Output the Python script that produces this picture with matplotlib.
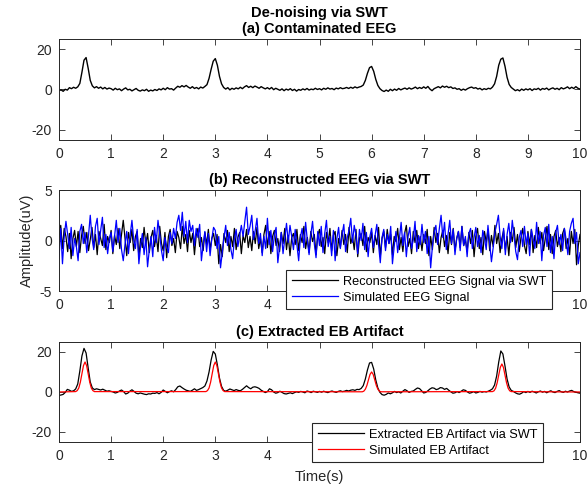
import numpy as np
import matplotlib.pyplot as plt

plt.rcParams['font.family'] = ['Liberation Sans', 'DejaVu Sans']
plt.rcParams['axes.unicode_minus'] = False

# contaminated EEG, one value every 0.04 s from 0 to 10 s
contaminated = [
    -0.6, -0.2, -0.9, 0.1, -0.3, 0.9, 0.4, 1.1, 0.6, 1.3, 3.0, 8.5, 14.5, 15.8, 10.5, 4.5, 1.8, 0.8, 1.4, 0.6, 1.2, 0.3, 1.0, 0.2, 0.7,
    0.4, -0.3, 0.6, -0.1, 0.3, -0.6, 0.2, 0.8, -0.2, 0.1, -0.7, -0.1, 0.5, -0.4, -0.8, -0.2, -0.6, 0.1, -0.9, -0.3, -0.7, 0.0, -0.5, 0.3, -0.2,
    0.6, -0.1, 0.9, 0.2, 0.4, -0.3, 0.7, 1.6, 1.1, 1.9, 1.3, 2.0, 1.2, 0.6, 1.4, 0.5, 1.0, 0.3, 1.2, 0.7, 1.5, 2.4, 5.5, 10.0, 14.0,
    15.3, 12.0, 6.5, 2.8, 1.0, 0.2, 0.9, -0.2, 0.6, 0.1, 0.8, 0.3, 1.1, 0.4, 1.3, 1.9, 1.0, 1.6, 0.9, 1.7, 1.2, 0.6, 1.4, 0.8, 0.3,
    0.9, 0.2, 1.0, -0.1, 0.6, 0.1, -0.4, 0.3, -0.6, 0.2, -0.3, 0.4, -0.5, 0.1, -0.8, 0.0, -0.4, 0.3, -0.2, 0.5, -0.3, 0.2, -0.1, 0.6, 0.0,
    0.4, -0.2, 0.6, 0.1, 0.8, 0.2, 0.5, -0.1, 0.7, 0.3, 0.9, 0.4, 0.6, 1.0, 0.5, 1.1, 0.6, 1.3, 0.8, 1.2, 1.5, 2.2, 4.5, 8.0, 10.8,
    11.4, 9.0, 5.0, 2.0, 0.4, -0.5, -1.0, -0.3, -0.9, 0.1, -0.6, 0.2, -0.4, 0.5, -0.2, 0.3, 0.7, 0.1, 0.8, 0.2, 0.6, 1.2, 0.4, 1.0, 0.5,
    1.3, 0.6, 1.5, 0.2, -0.6, 0.4, 0.9, 1.4, 0.8, 1.7, 1.1, 1.6, 0.9, 1.3, 0.5, 0.8, 0.1, 0.4, -0.4, 0.2, -0.3, 0.4, 0.9, 1.2, 0.6,
    0.9, 0.2, 0.6, -0.2, 0.4, 0.0, 0.6, 0.3, 1.2, 2.8, 6.5, 12.0, 15.0, 15.6, 11.5, 6.0, 2.5, 1.0, 0.2, -0.6, -0.1, -0.7, 0.2, -0.4, 0.3,
    -0.2, 0.4, -0.5, 0.3, 0.0, 0.6, -0.3, 0.5, 0.1, 0.7, -0.2, 0.4, 0.8, 0.1, 0.6, -0.1, 0.9, 0.3, 0.7, 1.3, 0.4, 1.1, 0.5, 1.4, 0.6, 0.2,
]

# simulated EEG and reconstructed EEG, one value every 1/30 s
simulated_eeg = [
    -1.8, 1.2, -2.3, 0.4, 1.9, 0.6, -0.8, 1.3, -1.5, 0.2, -0.6, -2.0, 0.9, 1.6, -0.3, 0.8, -1.2, 0.5, 2.5, 0.3, -0.9, 1.4, 2.2, -0.4, 1.0, 2.3, -0.7, 0.6, -1.3, 0.2,
    0.8, -1.1, 0.5, 2.0, -0.2, 1.2, -0.9, -2.0, -0.4, 0.9, -1.3, 0.6, 2.0, 0.1, -0.8, 1.1, -2.3, -0.5, 0.7, -1.4, 0.3, -2.6, -0.9, 0.4, -1.6, 1.3, -0.2, 2.0, 0.6, -1.0,
    -2.0, 0.3, -0.6, -1.2, 0.8, -0.3, 1.2, 0.2, 1.8, 2.5, 1.0, 2.8, 0.4, 1.9, -0.2, 2.0, 0.9, 1.5, -0.5, 1.2, 0.3, 1.6, -2.0, -0.4, 0.9, -1.1, 0.7, -1.5, 0.2, 1.3,
    1.0, -0.8, 0.4, -2.7, -1.2, 0.3, 1.5, -0.5, 0.8, -0.9, -1.8, 0.2, 1.1, -0.6, 0.5, 1.5, 0.4, 1.9, 3.3, 0.6, 1.4, 2.5, 0.1, 1.0, 2.2, -0.3, 0.7, -1.5, 0.4, -0.8,
    2.2, -0.4, 1.0, -1.1, 0.5, 1.3, -2.2, -0.6, 0.8, -1.3, 0.2, 1.7, -0.2, 1.5, 0.4, -0.9, 1.1, -0.5, -2.0, 0.3, 1.2, -0.7, 1.8, 0.0, -1.4, 0.6, 1.9, -0.3, -1.7, 0.9,
    -0.5, 1.4, -1.2, 0.7, 2.0, -0.6, 0.4, -1.5, 1.0, -2.0, 0.2, 1.3, -0.8, 0.6, 1.6, -1.1, 0.3, 1.0, 2.2, -0.2, 1.5, 0.5, -1.3, 1.1, 0.0, 1.7, -0.9, 0.8, -1.6, 0.4,
    1.2, -0.7, 0.5, 1.6, -0.4, -2.2, 0.3, 1.1, -1.0, 0.6, -0.3, 1.4, -2.3, -0.6, 0.9, -1.2, 0.2, 1.8, -0.5, 0.8, -1.6, 0.4, 1.3, -0.8, 0.1, 1.9, -1.1, 0.5, -0.4, 1.6,
    -0.2, 0.9, -1.3, 0.4, -2.7, -0.6, 0.8, 1.5, -0.4, 1.2, 2.5, 0.3, 1.8, -0.9, 0.6, 2.0, -0.3, 1.1, -1.4, 0.2, 0.9, -1.0, 1.4, -0.5, 0.4, -1.6, 0.7, 1.2, -0.8, 0.3,
    1.3, -0.6, 0.5, -1.2, 1.0, 0.2, -0.9, 1.5, -0.3, -2.1, -0.7, 0.8, 1.6, 2.5, 0.4, -0.8, 1.2, -1.4, 0.6, 1.7, -0.2, 2.0, 0.5, -1.1, -1.9, 0.3, 1.0, -0.6, 1.4, -0.4,
    0.7, -1.5, 1.1, 0.2, -0.8, 1.8, -0.3, 0.9, -2.0, 0.5, 1.3, -0.6, 1.6, -1.2, 0.4, -1.8, 0.8, 1.5, -0.4, 0.6, -1.0, 1.2, 0.1, -1.4, 0.9, 1.7, 2.2, -0.3, 0.8, -2.3, -1.2,
]
reconstructed_eeg = [
    0.3, 1.5, -0.8, 1.2, 0.4, -1.1, 0.7, -1.8, 0.2, 1.0, -0.6, 0.9, -1.2, 0.5, 1.4, -0.3, 0.8, -1.0, 0.1, 1.3, -0.7, 0.6, -1.4, 0.9, 0.2, -0.5, 1.6, -0.9, 0.4, -0.2,
    1.0, -1.3, 0.5, -0.4, 1.2, -0.8, 0.6, 2.0, 0.3, -1.5, 0.8, -0.2, 1.1, -1.0, 0.4, 0.9, -1.6, 0.2, -0.7, 1.3, -0.4, 0.7, -1.2, 0.3, 1.0, -0.6, 0.5, -1.1, 1.4, -0.3,
    -1.0, 0.8, -1.7, 0.4, 1.1, -0.5, 0.2, -1.2, 0.9, 0.3, -0.8, 1.4, -0.3, 0.6, -1.1, 1.0, -0.2, 0.7, -1.4, 0.5, 1.2, -0.6, 0.3, -1.0, 0.8, -0.4, 1.1, -0.9, 0.2, 0.7,
    -0.5, 0.6, -2.3, -0.4, -1.6, 0.7, -0.2, 1.0, -1.1, 0.4, -0.6, 1.2, -0.9, 0.3, 0.8, -1.3, 0.5, -0.2, 1.1, -0.7, 0.4, -1.0, 0.9, -0.3, 1.3, -0.8, 0.2, -1.2, 0.6, 1.5,
    -0.7, 0.9, -1.3, 0.4, 1.0, -0.5, 0.2, -1.1, 0.8, -0.3, 1.2, -0.9, 0.5, -1.5, 0.3, 0.7, -0.4, 1.1, -1.0, 0.6, -0.2, 1.4, -0.8, 0.3, -1.2, 0.9, -0.1, 0.6, -1.4, 0.5,
    1.1, -0.6, 0.3, -1.3, 0.8, -0.2, 1.2, -1.0, 0.5, 0.9, -1.5, 0.2, -0.7, 1.0, -0.4, 0.6, -1.2, 1.3, -0.3, 0.4, -0.9, 1.1, -1.6, 0.2, 0.7, -0.5, 1.4, -1.1, 0.3, -0.2,
    0.8, -1.2, 0.5, -0.4, 1.3, -1.6, 0.2, 0.9, -0.7, 1.1, -0.3, 0.6, -1.4, 0.4, -0.1, 1.2, -0.9, 0.3, -1.1, 0.7, 1.5, -0.6, 0.2, -1.3, 0.9, -0.2, 1.0, -0.8, 0.4, -1.0,
    0.6, -0.3, 1.1, -1.5, 0.4, -0.9, 1.3, -0.2, 0.7, -1.2, 0.3, 1.0, -0.6, 0.5, -1.3, 0.8, -0.4, 1.2, -1.0, 0.2, 0.9, -0.7, 1.4, -0.5, 0.1, -1.1, 0.8, -0.3, 1.0, -1.6,
    0.4, 1.2, -0.8, 0.3, -1.4, 0.9, -0.2, 1.1, -1.0, 0.5, -0.6, 1.5, -0.3, 0.7, -1.2, 0.2, 1.0, -0.9, 0.4, -1.5, 0.8, -0.1, 1.3, -0.7, 0.6, -1.1, 0.3, 1.2, -0.5, -1.3,
    0.9, -0.4, 1.1, -1.2, 0.5, -0.7, 1.3, -0.3, 0.8, -1.0, 0.2, 1.4, -0.9, 0.6, -1.3, 0.4, 1.0, -0.6, 0.3, -1.1, 0.7, 1.2, -0.8, 0.2, -1.4, 0.9, -0.3, 1.1, -2.4, -0.5, 0.6,
]

# extracted EB artifact, one value every 0.04 s
extracted_eb = [
    -1.7, -1.5, -1.2, -0.2, 1.3, 0.9, 0.3, 0.6, 1.5, 4.0, 10.5, 18.0, 21.8, 19.5, 12.0, 5.0, 2.0, 1.2, 1.6, 1.3, 1.0, 1.4, 0.9, 0.4, 0.6,
    0.3, 0.0, -0.5, -0.2, 0.5, 1.0, 0.2, -1.0, -0.6, 0.4, 1.1, 0.3, -0.6, -0.9, -0.5, -0.8, -1.1, -1.3, -0.9, -1.0, -0.6, -0.7, -0.3, -0.9, -0.2,
    1.0, 0.3, -0.4, 0.2, 0.6, 0.1, 1.2, 2.6, 3.0, 2.2, 1.5, 0.9, 0.6, 0.3, 0.9, 1.6, 0.8, 1.2, 1.7, 2.2, 3.0, 5.5, 10.0, 16.0, 20.3,
    19.0, 13.5, 7.0, 2.8, 0.8, 0.4, 0.9, 1.5, 1.1, 0.7, 1.2, 0.8, 0.6, 1.3, 2.2, 3.1, 2.2, 1.6, 2.4, 2.6, 2.3, 1.8, 0.9, 0.3, -0.3,
    0.2, 1.6, 1.1, 0.0, -0.6, -0.3, 0.4, -0.2, -0.8, -1.0, -0.7, -0.4, -0.8, -0.3, 0.1, -0.2, 0.3, 0.0, -0.4, 0.5, 0.2, -0.3, 0.4, 0.1, -0.2,
    0.3, -0.1, 0.4, 0.0, -0.3, 0.2, 0.5, 0.1, -0.2, 0.3, 0.6, 0.2, 0.4, 0.8, 0.5, 0.9, 1.1, 0.8, 1.3, 1.2, 1.8, 3.2, 6.5, 11.0, 14.5,
    14.8, 11.5, 6.0, 2.0, -0.2, -1.3, -1.6, -1.2, -0.5, -0.9, -0.4, 0.3, -0.3, 0.1, -0.5, 0.4, 1.2, 0.6, -0.2, 0.3, 0.5, 1.3, 2.0, 1.7, 0.6,
    -0.5, -0.2, 0.6, 1.5, 2.1, 1.9, 1.2, 1.5, 2.2, 2.0, 1.3, 1.8, 0.9, 0.1, -0.6, -0.4, 0.2, -0.3, 0.4, 1.1, 0.8, 0.0, -0.6, -0.3, 0.2,
    -0.5, -0.2, 0.3, -0.1, 0.2, 0.0, 0.4, 0.9, 1.6, 3.5, 8.0, 15.0, 20.5, 19.0, 13.0, 6.5, 2.5, 0.8, 0.3, -0.4, -0.9, -1.1, -0.6, 0.2, -0.3,
    0.3, -0.2, 0.4, 0.0, -0.5, 0.1, 0.5, -0.1, 0.3, -0.4, 0.2, 0.6, 0.0, -0.3, 0.3, 0.7, 0.1, -0.2, 0.4, 0.0, 0.5, 0.8, 0.2, -0.1, -0.4, -0.6,
]

# simulated EB artifact (time, amplitude)
simulated_eb_t = [0.0,
                  0.32, 0.35, 0.38, 0.41, 0.44, 0.47, 0.50, 0.53, 0.56, 0.59, 0.62, 0.65, 0.68,
                  2.82, 2.85, 2.88, 2.91, 2.94, 2.97, 3.00, 3.03, 3.06, 3.09, 3.12, 3.15, 3.18,
                  5.82, 5.85, 5.88, 5.91, 5.94, 5.97, 6.00, 6.03, 6.06, 6.09, 6.12, 6.15, 6.18,
                  8.32, 8.35, 8.38, 8.41, 8.44, 8.47, 8.50, 8.53, 8.56, 8.59, 8.62, 8.65, 8.68,
                  10.0]
simulated_eb = [0.0,
                0.2, 0.7, 2.0, 4.9, 9.1, 13.2, 15.0, 13.2, 9.1, 4.9, 2.0, 0.7, 0.2,
                0.2, 0.7, 2.0, 4.9, 9.1, 13.2, 15.0, 13.2, 9.1, 4.9, 2.0, 0.7, 0.2,
                0.1, 0.4, 1.4, 3.3, 6.1, 8.8, 10.0, 8.8, 6.1, 3.3, 1.4, 0.4, 0.1,
                0.2, 0.6, 1.9, 4.6, 8.5, 12.3, 14.0, 12.3, 8.5, 4.6, 1.9, 0.6, 0.2,
                0.0]

t_a = np.linspace(0, 10, len(contaminated))
t_b = np.linspace(0, 10, len(simulated_eeg))
t_c = np.linspace(0, 10, len(extracted_eb))

fig = plt.figure(figsize=(5.87, 4.91), dpi=100)
ax1 = fig.add_axes([0.1005, 0.7149, 0.8876, 0.2057])
ax2 = fig.add_axes([0.1005, 0.4073, 0.8876, 0.2057])
ax3 = fig.add_axes([0.1005, 0.0998, 0.8876, 0.2037])

dark = '#262626'
leg_kw = dict(loc='upper left', fontsize=9.2, fancybox=False, framealpha=1,
              edgecolor=dark, handlelength=3.6, borderpad=0.45, labelspacing=0.3,
              handletextpad=0.4, borderaxespad=0)

ax1.plot(t_a, contaminated, color='k', lw=1.0)
ax1.set_ylim(-25, 25)
ax1.set_yticks([-20, 0, 20])
ax1.set_title('De-noising via SWT\n(a) Contaminated EEG', fontsize=10.5, fontweight='bold',
              pad=4, linespacing=1.25)

ax2.plot(t_b, reconstructed_eeg, color='k', lw=0.9, label='Reconstructed EEG Signal via SWT')
ax2.plot(t_b, simulated_eeg, color='b', lw=0.9, label='Simulated EEG Signal')
ax2.set_ylim(-5, 5)
ax2.set_yticks([-5, 0, 5])
ax2.set_title('(b) Reconstructed EEG via SWT', fontsize=10.5, fontweight='bold', pad=4)
ax2.set_ylabel('Amplitude(uV)', fontsize=10.5, color=dark)
leg2 = ax2.legend(bbox_to_anchor=(0.436, 0.208), **leg_kw)
leg2.get_frame().set_linewidth(0.8)

ax3.plot(t_c, extracted_eb, color='k', lw=0.9, label='Extracted EB Artifact via SWT')
ax3.plot(simulated_eb_t, simulated_eb, color='r', lw=0.9, label='Simulated EB Artifact')
ax3.set_ylim(-25, 25)
ax3.set_yticks([-20, 0, 20])
ax3.set_title('(c) Extracted EB Artifact', fontsize=10.5, fontweight='bold', pad=4)
ax3.set_xlabel('Time(s)', fontsize=10.5, color=dark, labelpad=5)
leg3 = ax3.legend(bbox_to_anchor=(0.486, 0.19), **leg_kw)
leg3.get_frame().set_linewidth(0.8)

for ax in (ax1, ax2, ax3):
    ax.set_xlim(0, 10)
    ax.set_xticks(range(0, 11))
    ax.tick_params(direction='in', top=True, right=True, length=4, width=0.6,
                   labelsize=10, colors=dark, pad=5)
    for s in ax.spines.values():
        s.set_color(dark)
        s.set_linewidth(0.7)

# tick labels 5..9 sit behind the legends in (b) and (c)
for ax in (ax2, ax3):
    for lab in ax.get_xticklabels()[5:10]:
        lab.set_visible(False)

fig.savefig('out.png', dpi=100)
